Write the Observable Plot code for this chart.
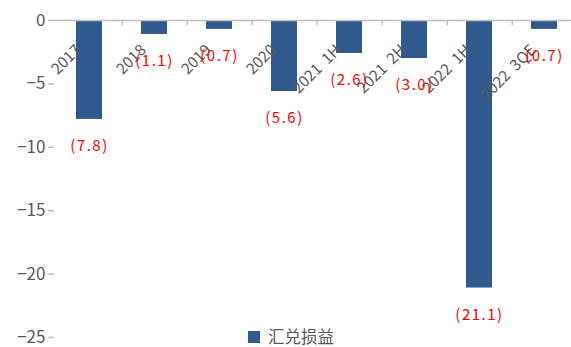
<!DOCTYPE html>
<html><head><meta charset="utf-8">
<script src="https://cdn.jsdelivr.net/npm/d3@7"></script>
<script src="https://cdn.jsdelivr.net/npm/@observablehq/plot@0.6"></script>
<style>
body{margin:0;background:#fff;}
#wrap{position:relative;width:571px;height:347px;overflow:hidden;}
#legend{position:absolute;left:248px;top:328px;display:flex;align-items:center;font-family:"Noto Sans CJK SC",sans-serif;font-size:16.5px;color:#595959;line-height:17px;}
#legend .sw{width:12px;height:12px;background:#30598D;margin-right:8px;}
.vlabel text{letter-spacing:1.5px;}
</style></head><body><div id="wrap"></div>
<script>
const periods = ["2017","2018","2019","2020","2021\u00a0\u00a01H","2021\u00a0\u00a02H","2022\u00a0\u00a01H","2022\u00a0\u00a03QE"];
const values = [-7.8,-1.1,-0.7,-5.6,-2.6,-3.0,-21.1,-0.7];
const valueLabels = ["(7.8)","(1.1)","(0.7)","(5.6)","(2.6)","(3.0)","(21.1)","(0.7)"];
const seriesName = "汇兑损益";
const yTicks = [0,-5,-10,-15,-20,-25];

const data = periods.map((p,i)=>({period:p, value:values[i], label:valueLabels[i]}));
const step = (578-54)/periods.length;

const plot = Plot.plot({
  width:571, height:347, marginTop:20, marginBottom:10, marginLeft:54, marginRight:0,
  style:{background:"#fff", fontFamily:"'Noto Sans CJK SC', sans-serif"},
  x:{domain:periods, range:[54,578], paddingInner:0.6, paddingOuter:0.3, axis:null},
  y:{domain:[-25,0], axis:null},
  marks:[
    Plot.barY(data,{x:"period", y:"value", fill:"#30598D"}),
    Plot.ruleX(periods.slice(0,-1),{x:d=>d, y1:0, y2:-0.42, dx:step/2, stroke:"#BFBFBF", strokeWidth:1.5}),
    Plot.ruleY([0],{stroke:"#BFBFBF", strokeWidth:1.5}),
    Plot.axisY({ticks:yTicks, tickSize:6, tickPadding:3, line:true, stroke:"#BFBFBF", strokeWidth:1.5, fill:"#595959", fontSize:17, label:null, tickFormat:d=>d===0?"0":"\u2212"+Math.abs(d)}),
    Plot.text(data,{x:"period", y:()=>0, text:"period", rotate:-45, textAnchor:"end", dx:-11, dy:27, fill:"#595959", fontSize:15.5}),
    Plot.text(data,{x:"period", y:"value", text:"label", dy:27, fill:"#FF0000", fontSize:15, className:"vlabel"})
  ]
});
const wrap = document.getElementById("wrap");
wrap.appendChild(plot);
const lg = document.createElement("div");
lg.id = "legend";
lg.innerHTML = '<span class="sw"></span><span></span>';
lg.lastChild.textContent = seriesName;
wrap.appendChild(lg);
</script></body></html>
